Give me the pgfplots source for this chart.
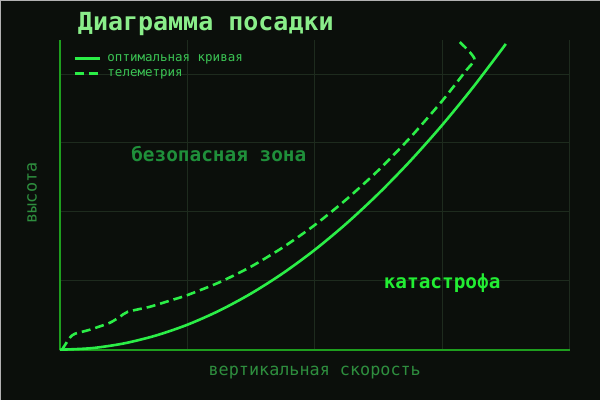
\documentclass[border=0pt]{standalone}
\usepackage{fontspec}
\setmainfont{DejaVu Sans Mono}
\setmonofont{DejaVu Sans Mono}
\usepackage{pgfplots}
\pgfplotsset{compat=1.18}

\definecolor{bg}{HTML}{0B0F0B}
\definecolor{gridc}{HTML}{1E2B1E}
\definecolor{spine}{HTML}{1E9E1E}
\definecolor{lineg}{HTML}{2BEE47}
\definecolor{titleg}{HTML}{8AEE8A}
\definecolor{labelg}{HTML}{2E8E3E}
\definecolor{safeg}{HTML}{1F8F3A}
\definecolor{crashg}{HTML}{22EE33}
\definecolor{legtext}{HTML}{3BC454}

\begin{document}
\begin{tikzpicture}
\fill[bg] (0,0) rectangle (600bp,400bp);
\draw[gray!60, line width=1bp] (0.5bp,0bp) -- (0.5bp,399.5bp) -- (600bp,399.5bp);
\useasboundingbox (0,0) rectangle (600bp,400bp);
\begin{axis}[
    at={(60bp,50bp)}, anchor=south west,
    scale only axis,
    width=510bp, height=310bp,
    xmin=0, xmax=4, ymin=0, ymax=4.493,
    xtick={0,1,2,3,4}, ytick={0,1,2,3,4},
    xticklabels={}, yticklabels={},
    major tick length=0pt,
    grid=major,
    grid style={gridc, line width=0.8bp},
    axis x line*=bottom, axis y line*=left,
    axis line style={-, spine, line width=2bp},
    clip=false,
    title={Диаграмма посадки},
    title style={at={(axis description cs:0.035,1.032)}, anchor=west,
        font=\fontsize{25bp}{30bp}\selectfont\bfseries, text=titleg, inner sep=0pt},
    xlabel={вертикальная скорость},
    xlabel style={at={(axis description cs:0.5,-0.074)}, anchor=center,
        font=\fontsize{16.8bp}{20bp}\selectfont, text=labelg},
    ylabel={высота},
    ylabel style={at={(axis description cs:-0.055,0.506)}, anchor=center, rotate=0,
        font=\fontsize{16.8bp}{20bp}\selectfont, text=labelg},
    legend image code/.code={\draw[#1, line width=2.6bp] (0bp,0bp) -- (25bp,0bp);},
    legend style={at={(axis description cs:0.026,0.959)}, anchor=north west,
        draw=none, fill=none, inner sep=0pt, text=legtext,
        font=\fontsize{12.5bp}{14bp}\selectfont,
        row sep=3.5bp, column sep=5bp,
        nodes={inner sep=1.5bp}},
    legend cell align=left,
]
\addplot[lineg, line width=2.6bp, smooth] coordinates {
    (0,0) (0.25,0.0226) (0.5,0.0905) (0.75,0.204) (1,0.362) (1.25,0.566)
    (1.5,0.815) (1.75,1.109) (2,1.448) (2.25,1.833) (2.5,2.263)
    (2.75,2.738) (3,3.258) (3.25,3.824) (3.5,4.435)
};
\addlegendentry{оптимальная кривая}
\addplot[lineg, line width=2.6bp, dash pattern=on 9bp off 5bp, smooth, tension=0.4] coordinates {
    (0.016,0) (0.078,0.174) (0.118,0.232) (0.235,0.29) (0.392,0.391)
    (0.471,0.478) (0.533,0.551) (0.706,0.623) (0.886,0.725) (1.0,0.792)
    (1.25,0.976) (1.5,1.205) (1.75,1.484) (2.0,1.808) (2.25,2.183)
    (2.5,2.603) (2.75,3.078) (3.0,3.608) (3.19,4.054) (3.255,4.203)
    (3.216,4.319) (3.122,4.493)
};
\addlegendentry{телеметрия}
\node[text=safeg, font=\fontsize{19.4bp}{22bp}\selectfont\bfseries] at (axis cs:1.247,2.84) {безопасная зона};
\node[text=crashg, font=\fontsize{19.4bp}{22bp}\selectfont\bfseries] at (axis cs:3.0,0.97) {катастрофа};
\end{axis}
\end{tikzpicture}
\end{document}
